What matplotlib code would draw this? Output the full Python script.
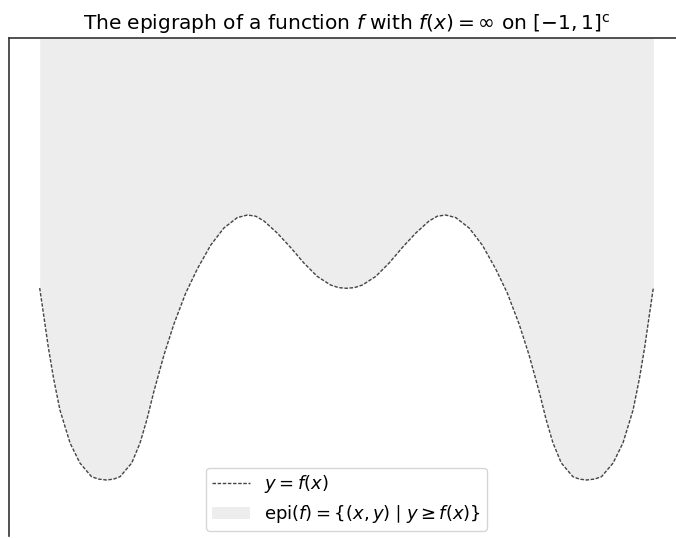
import numpy as np
import matplotlib.pyplot as plt

# points on the left half of the curve (f is even, right half mirrors it)
x_left = [-1.0, -0.988, -0.972, -0.955, -0.934, -0.901, -0.869, -0.831, -0.808,
          -0.782, -0.759, -0.738, -0.700, -0.673, -0.651, -0.628, -0.595, -0.5625,
          -0.524, -0.486, -0.443, -0.400, -0.356, -0.323, -0.296, -0.269, -0.226,
          -0.182, -0.139, -0.095, -0.052, -0.026, 0.0]
y_left = [1.92, 1.67, 1.33, 1.02, 0.70, 0.37, 0.17, 0.033, 0.009,
          0.0, 0.009, 0.033, 0.17, 0.37, 0.60, 0.883, 1.25, 1.56,
          1.87, 2.112, 2.347, 2.519, 2.624, 2.65, 2.638, 2.59, 2.47,
          2.325, 2.17, 2.035, 1.95, 1.924, 1.917]

x = np.concatenate([x_left, -np.array(x_left[-2::-1])])
y = np.concatenate([y_left, y_left[-2::-1]])

y_top = 4.42

fig = plt.figure(figsize=(6.76, 5.38), dpi=100)
ax = fig.add_axes([9 / 676, 2 / 538, 675 / 676, 498 / 538])

ax.plot(x, y, color="#444444", lw=1.0, linestyle=(0, (2.5, 1.2)), label=r"$y = f(x)$")
ax.fill_between(x, y, y_top, color="lightgray", alpha=0.4, lw=0,
                label=r"$\mathrm{epi}(f) = \{(x, y) \mid y \geq f(x)\}$")

ax.set_xlim(-1.1, 1.1)
ax.set_ylim(-0.56, y_top)
ax.set_xticks([])
ax.set_yticks([])
ax.spines["right"].set_visible(False)
ax.spines["bottom"].set_visible(False)
for s in ("left", "top"):
    ax.spines[s].set_color("#333333")
    ax.spines[s].set_linewidth(1.2)

ax.set_title(r"The epigraph of a function $f$ with $f(x) = \infty$ on $[-1, 1]^{\mathrm{c}}$",
             fontsize=14.5)
ax.legend(loc="lower center", fontsize=13, handlelength=2.1, borderpad=0.3,
          labelspacing=0.45, borderaxespad=0.3)

fig.savefig("out.png", dpi=100)
